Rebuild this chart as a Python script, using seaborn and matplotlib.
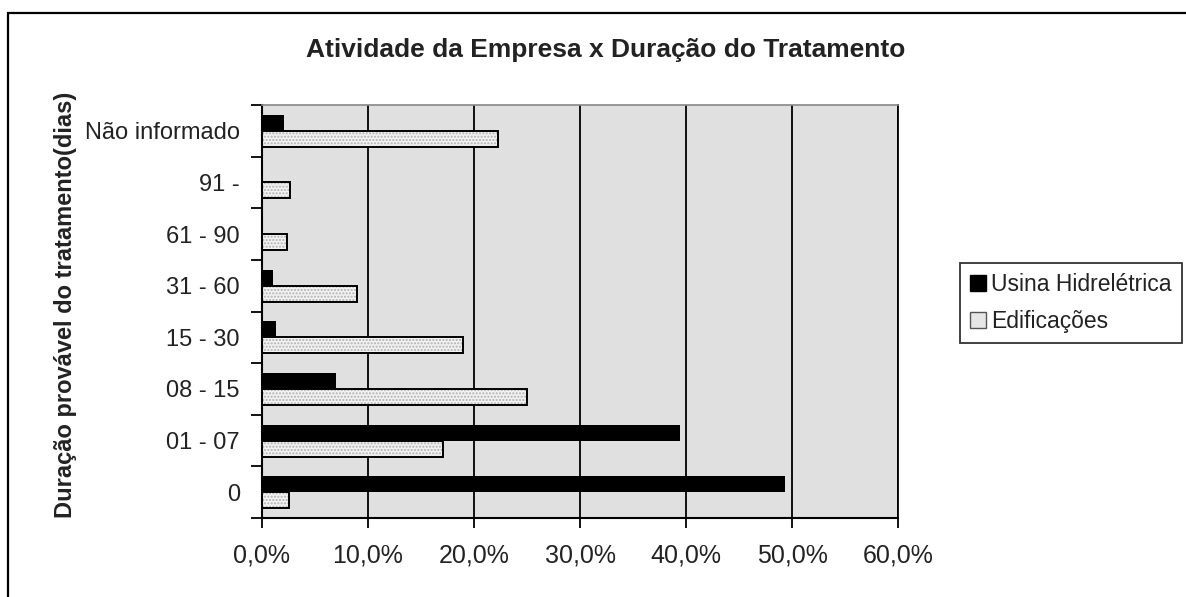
import matplotlib
matplotlib.use('Agg')
import matplotlib.pyplot as plt
import seaborn as sns
import pandas as pd
import numpy as np
from matplotlib.patches import Rectangle, Patch
from matplotlib.ticker import FixedLocator

# ---- data ----
categories = ["Não informado", "91 -", "61 - 90", "31 - 60", "15 - 30", "08 - 15", "01 - 07", "0"]
usina = [2.1, 0.0, 0.0, 1.0, 1.3, 7.0, 39.4, 49.3]
edificacoes = [22.3, 2.6, 2.4, 9.0, 19.0, 25.0, 17.1, 2.5]
series_names = ["Usina Hidrelétrica", "Edificações"]
x_ticks = [0, 10, 20, 30, 40, 50, 60]
title = "Atividade da Empresa x Duração do Tratamento"
y_title = "Duração provável do tratamento(dias)"

sns.set_theme(style="white")
plt.rcParams['font.family'] = ['Liberation Sans', 'DejaVu Sans']

df = pd.DataFrame({
    "Duração": categories * 2,
    "valor": usina + edificacoes,
    "Série": [series_names[0]] * len(categories) + [series_names[1]] * len(categories),
})

W, H = 1186, 597
fig = plt.figure(figsize=(W / 100, H / 100), dpi=100)
left, right, top, bottom = 262, 898, 105, 518
ax = fig.add_axes([left / W, 1 - bottom / H, (right - left) / W, (bottom - top) / H])

BLACK = "#000000"
LIGHT = "#f2f2f2"
sns.barplot(data=df, y="Duração", x="valor", hue="Série", order=categories,
            hue_order=series_names, palette=[BLACK, LIGHT], width=0.62,
            orient='h', ax=ax, legend=False, saturation=1, linewidth=0)

for p in list(ax.patches):
    fc = p.get_facecolor()
    if fc[0] > 0.5:  # light bars
        p.set_hatch('.....')
        p.set_edgecolor('#b0b0b0')
        p.set_linewidth(0)
        ax.add_patch(Rectangle((p.get_x(), p.get_y()), p.get_width(), p.get_height(),
                               fill=False, edgecolor='black', linewidth=1.4, zorder=p.get_zorder() + 0.1))

ax.set_facecolor('#e0e0e0')
ax.set_axisbelow(True)
ax.xaxis.grid(True, color='black', linewidth=1.3)
ax.yaxis.grid(False)

TXT = '#222222'
FS = 17
ax.set_xlim(0, 60)
ax.set_xticks(x_ticks)
ax.set_xticklabels([f"{v:.1f}%".replace('.', ',') for v in x_ticks], fontsize=18, color=TXT)
ax.set_ylim(len(categories) - 0.5, -0.5)

ax.tick_params(axis='x', which='major', bottom=True, direction='out', length=7, width=1.3,
               color='black', pad=11)
ax.tick_params(axis='y', which='major', left=True, length=0, pad=16, labelsize=FS, labelcolor=TXT)
ax.yaxis.set_minor_locator(FixedLocator(np.arange(-0.5, len(categories), 1.0)))
ax.tick_params(axis='y', which='minor', left=True, direction='out', length=8, width=1.3, color='black')

ax.set_xlabel("")
ax.set_ylabel(y_title, fontsize=17, fontweight='bold', color=TXT)
ax.yaxis.set_label_coords((77 - left) / (right - left), 0.515)

for s in ['left', 'bottom']:
    ax.spines[s].set_color('black')
    ax.spines[s].set_linewidth(1.5)
ax.spines['top'].set_color('#888888')
ax.spines['top'].set_linewidth(1.2)
ax.spines['right'].set_color('black')
ax.spines['right'].set_linewidth(1.3)

fig.text(606 / W, 1 - 50 / H, title, ha='center', va='center', fontsize=19,
         fontweight='bold', color=TXT)

handles = [Patch(facecolor=BLACK, edgecolor=BLACK),
           Patch(facecolor='#e6e6e6', edgecolor='#555555', linewidth=1)]
leg = fig.legend(handles, series_names, loc='upper left',
                 bbox_to_anchor=(960 / W, 1 - 263 / H), frameon=True, fancybox=False,
                 fontsize=16.5, handlelength=0.7, handleheight=0.7, handletextpad=0.2,
                 borderpad=0.45, borderaxespad=0, labelspacing=0.6)
leg.get_frame().set_edgecolor('black')
leg.get_frame().set_linewidth(1.3)
for t in leg.get_texts():
    t.set_color(TXT)

fig.patches.append(Rectangle((8 / W, -0.2), 1.5, (1 - 13 / H) + 0.2, transform=fig.transFigure,
                             fill=False, edgecolor='black', linewidth=1.6))

fig.savefig("out.png", dpi=100, facecolor='white')
